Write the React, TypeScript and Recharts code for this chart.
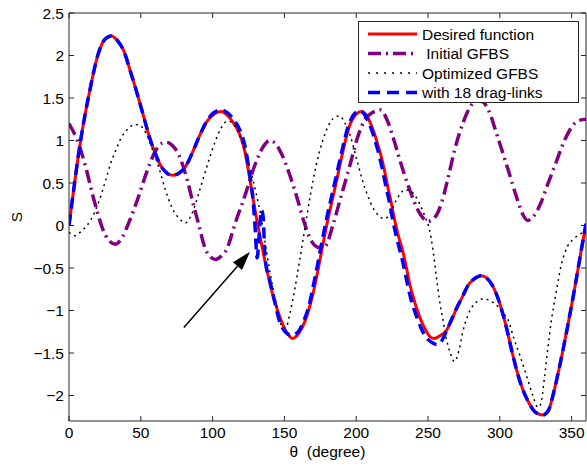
import { LineChart, Line, XAxis, YAxis, ReferenceLine } from 'recharts'

const thetaTicks = [0, 50, 100, 150, 200, 250, 300, 350]
const sTicks = [-2, -1.5, -1, -0.5, 0, 0.5, 1, 1.5, 2, 2.5]

// Desired function (red)
const desiredTheta = [
  0, 3.5, 7, 10.5, 15, 20, 25, 29.5, 34, 38, 43, 47.5, 52, 56, 60, 64, 68, 72, 76, 81, 86, 90.5, 96.7,
  101, 106, 110, 114, 117.6, 120, 122.3, 125.7, 128, 130.4, 133, 136, 140, 143, 146.5, 150, 153, 155.5,
  160, 164, 168, 171, 174, 176.8, 180, 186, 190.7, 195.3, 200, 203.5, 207, 210, 212.7, 215, 217.4,
  220, 222, 224, 226.6, 229, 232.4, 235, 237, 240, 243, 246, 249, 251.5, 254.5, 258, 262.6, 266, 270,
  274.2, 278, 282, 287, 291, 295, 300, 304, 308, 312, 316, 320, 325, 330, 334, 338, 342.7, 347.3, 352,
  356.6, 360,
]
const desiredS = [
  0, 0.45, 0.88, 1.24, 1.63, 2.0, 2.19, 2.23, 2.17, 2.06, 1.8, 1.55, 1.28, 1.04, 0.85, 0.7, 0.62, 0.59,
  0.61, 0.69, 0.86, 1.04, 1.24, 1.31, 1.34, 1.3, 1.22, 1.12, 1.02, 0.88, 0.57, 0.33, 0.1, -0.13, -0.38,
  -0.69, -0.88, -1.06, -1.21, -1.29, -1.33, -1.27, -1.14, -0.93, -0.72, -0.47, -0.22, 0.05, 0.5,
  0.87, 1.17, 1.31, 1.34, 1.3, 1.2, 1.08, 0.95, 0.81, 0.62, 0.45, 0.3, 0.08, -0.1, -0.3, -0.5, -0.67,
  -0.86, -1.02, -1.15, -1.25, -1.31, -1.33, -1.3, -1.24, -1.13, -0.97, -0.83, -0.7, -0.63, -0.59, -0.62,
  -0.71, -0.92, -1.16, -1.45, -1.72, -1.93, -2.08, -2.2, -2.23, -2.17, -1.93, -1.57, -1.18, -0.75, -0.3,
  0.02,
]

// Initial GFBS (purple)
const initialTheta = [
  0, 5.8, 11.6, 16.3, 19.7, 23, 27.5, 32.5, 37, 41.8, 47.6, 54.6, 60.3, 65, 68, 72, 76.5, 82.4, 87, 90.5,
  94.4, 98.5, 102, 106, 110.6, 114, 117.6, 120.5, 124.6, 129.2, 135, 139.7, 143.5, 147.8, 153.6, 159.4,
  163.5, 168.7, 174.5, 178.5, 183.7, 188.4, 195.3, 201, 205.8, 211.5, 217, 222, 226, 230, 237, 244, 250,
  255, 260, 264.5, 268.4, 274.2, 278.8, 284, 288.5, 292, 298.5, 305.5, 312.5, 316, 319.5, 323, 328.7, 333,
  338, 345, 352, 356, 360,
]
const initialS = [
  1.2, 1.0, 0.69, 0.37, 0.16, -0.02, -0.17, -0.22, -0.14, 0.04, 0.3, 0.65, 0.88, 0.97, 0.98, 0.94, 0.83,
  0.53, 0.22, 0.0, -0.25, -0.37, -0.4, -0.36, -0.25, -0.07, 0.12, 0.25, 0.46, 0.7, 0.92, 1.0, 0.97, 0.85,
  0.6, 0.29, 0.05, -0.18, -0.26, -0.24, 0.0, 0.28, 0.69, 1.04, 1.24, 1.33, 1.36, 1.22, 1.02, 0.79, 0.43,
  0.15, 0.05, 0.1, 0.3, 0.6, 0.88, 1.2, 1.38, 1.47, 1.45, 1.36, 1.04, 0.67, 0.29, 0.13, 0.06, 0.1, 0.27,
  0.47, 0.69, 1.0, 1.2, 1.24, 1.25,
]

// Optimized GFBS (black dotted)
const optimizedTheta = [
  0, 4, 9, 15, 21, 25.5, 29, 32.5, 36, 40.6, 46, 50, 54, 58, 62.6, 67.3, 72, 77.5, 81, 84.5, 88, 92, 96.7,
  101.4, 106, 110.5, 114, 118, 122, 126, 130, 134, 137.5, 141, 145, 148.5, 151, 154, 157, 160.5, 164, 168,
  172, 176.5, 180, 184, 188.4, 192, 196, 200, 204, 208, 212, 216, 220, 224, 228, 234, 239, 244, 248, 251,
  253.3, 255.7, 258, 260.5, 263, 265.5, 268.4, 271.5, 274.2, 277.7, 281, 285.5, 289, 293.5, 298.5, 302,
  305.5, 310, 314.8, 319.4, 323, 326.5, 328.5, 331, 333.4, 335.7, 339.2, 342.7, 347.3, 352, 356, 360,
]
const optimizedS = [
  -0.08, -0.12, -0.06, 0.06, 0.29, 0.53, 0.73, 0.88, 1.02, 1.13, 1.19, 1.17, 1.07, 0.9, 0.68, 0.41, 0.2,
  0.07, 0.03, 0.1, 0.25, 0.47, 0.73, 0.97, 1.15, 1.23, 1.2, 1.1, 0.9, 0.68, 0.4, 0.08, -0.3, -0.65, -0.97,
  -1.2, -1.2, -1.02, -0.77, -0.42, -0.06, 0.35, 0.7, 0.99, 1.15, 1.26, 1.29, 1.21, 1.05, 0.8, 0.55, 0.35,
  0.2, 0.11, 0.08, 0.16, 0.3, 0.42, 0.39, 0.26, 0.1, -0.05, -0.27, -0.59, -0.88, -1.12, -1.35, -1.5, -1.6,
  -1.47, -1.25, -1.06, -0.95, -0.88, -0.86, -0.89, -0.95, -1.03, -1.1, -1.34, -1.57, -1.81, -2.0, -2.14,
  -2.1, -1.8, -1.45, -1.14, -0.79, -0.47, -0.24, -0.15, -0.1, -0.05,
]

// With 18 drag-links (blue dashed)
const dragTheta = [
  0, 3.5, 7, 10.5, 15, 20, 25, 29.5, 34, 38, 43, 47.5, 52, 56, 60, 64, 68, 72, 76, 81, 86, 90.5, 96.7,
  101, 106, 110, 114, 117.6, 120, 122.3, 125.7, 128, 129.5, 131, 132.5, 134, 135.2, 136.5, 140, 143, 146.5,
  150, 154.5, 159, 163, 167, 170, 173, 175.8, 179, 185, 189.7, 194.3, 199, 202.5, 206, 209, 211.7, 214,
  216.2, 218.8, 220.8, 222.8, 225.3, 227.8, 231, 234, 236, 239, 242, 245, 248, 252, 256.5, 259, 262.6,
  266, 270, 274.2, 278, 282, 287, 291, 295, 300, 304, 308, 312, 316, 320, 325, 330, 334, 338, 342.7, 347.3,
  352, 356.6, 360,
]
const dragS = [
  0, 0.45, 0.88, 1.24, 1.63, 2.0, 2.19, 2.23, 2.17, 2.06, 1.8, 1.55, 1.28, 1.04, 0.85, 0.7, 0.62, 0.59,
  0.61, 0.69, 0.86, 1.04, 1.25, 1.33, 1.36, 1.33, 1.26, 1.17, 1.08, 0.95, 0.62, 0.33, 0.0, -0.38, -0.1,
  0.18, 0.1, -0.38, -0.66, -0.88, -1.12, -1.24, -1.29, -1.26, -1.14, -0.95, -0.72, -0.47, -0.22, 0.05, 0.5,
  0.85, 1.16, 1.32, 1.35, 1.3, 1.2, 1.08, 0.95, 0.81, 0.62, 0.45, 0.3, 0.08, -0.12, -0.33, -0.55, -0.72,
  -0.92, -1.07, -1.2, -1.3, -1.37, -1.4, -1.37, -1.25, -1.12, -0.97, -0.83, -0.7, -0.63, -0.59, -0.62,
  -0.71, -0.92, -1.16, -1.45, -1.72, -1.93, -2.08, -2.2, -2.23, -2.17, -1.93, -1.57, -1.18, -0.75, -0.3,
  0.02,
]

const arrowTail = { x: 80, y: -1.2 }
const arrowTip = { x: 126, y: -0.31 }

const toPoints = (t: number[], s: number[]) => t.map((theta, i) => ({ theta, s: s[i] }))

const desired = toPoints(desiredTheta, desiredS)
const initial = toPoints(initialTheta, initialS)
const optimized = toPoints(optimizedTheta, optimizedS)
const dragLinks = toPoints(dragTheta, dragS)

const FONT = '"Liberation Sans", Arial, sans-serif'
const AXIS = '#262626'

const fmt = (v: number) => (v < 0 ? `\u2212${-v}` : `${v}`)
const blank = () => ''

const legendItems = [
  { label: 'Desired function', color: '#ff0000', width: 3, dash: undefined as string | undefined },
  { label: '\u00a0Initial GFBS', color: '#800080', width: 3.5, dash: '13 5 2 5' },
  { label: 'Optimized GFBS', color: '#000000', width: 1.5, dash: '2 6' },
  { label: 'with 18 drag-links', color: '#0000ff', width: 3.5, dash: '12 7' },
]

function Arrow(props: any) {
  const { x1, y1, x2, y2 } = props
  if (x1 == null) return null
  const ang = Math.atan2(y2 - y1, x2 - x1)
  const len = 19
  const half = 6
  const bx = x2 - len * Math.cos(ang)
  const by = y2 - len * Math.sin(ang)
  const px = -Math.sin(ang) * half
  const py = Math.cos(ang) * half
  return (
    <g>
      <line x1={x1} y1={y1} x2={bx} y2={by} stroke="#000" strokeWidth={1.5} />
      <polygon points={`${x2},${y2} ${bx + px},${by + py} ${bx - px},${by - py}`} fill="#000" />
    </g>
  )
}

export default function App() {
  return (
    <div style={{ position: 'absolute', left: 0, top: 0, width: 587, height: 467, background: '#fff', fontFamily: FONT }}>
      <LineChart width={587} height={467} margin={{ top: 12, right: 0, bottom: 0, left: 0 }}>
        <XAxis
          dataKey="theta"
          type="number"
          domain={[0, 360]}
          ticks={thetaTicks}
          allowDataOverflow
          height={46}
          tickSize={-5}
          tickMargin={11}
          stroke={AXIS}
          tick={{ fill: '#000', fontSize: 15.5, fontFamily: FONT }}
          label={{
            content: () => (
              <text x={327.5} y={457} textAnchor="middle" fill="#000" fontSize={15.5} fontFamily={FONT}>
                {'\u03b8\u00a0\u00a0(degree)'}
              </text>
            ),
          }}
        />
        <XAxis
          xAxisId="top"
          orientation="top"
          dataKey="theta"
          type="number"
          domain={[0, 360]}
          ticks={thetaTicks}
          allowDataOverflow
          height={1}
          tickSize={-5}
          tickFormatter={blank}
          stroke={AXIS}
        />
        <YAxis
          type="number"
          domain={[-2.3, 2.5]}
          ticks={sTicks}
          allowDataOverflow
          width={69}
          tickSize={-5}
          tickMargin={10}
          stroke={AXIS}
          tickFormatter={fmt}
          tick={{ fill: '#000', fontSize: 15.5, fontFamily: FONT }}
          label={{
            content: () => (
              <text
                x={22}
                y={217}
                transform="rotate(-90 22 217)"
                textAnchor="middle"
                fill="#000"
                fontSize={15.5}
                fontFamily={FONT}
              >
                S
              </text>
            ),
          }}
        />
        <YAxis
          yAxisId="right"
          orientation="right"
          type="number"
          domain={[-2.3, 2.5]}
          ticks={sTicks}
          allowDataOverflow
          width={1}
          tickSize={-5}
          tickFormatter={blank}
          stroke={AXIS}
        />
        <Line
          data={desired}
          dataKey="s"
          type="monotone"
          stroke="#ff0000"
          strokeWidth={3}
          dot={false}
          isAnimationActive={false}
        />
        <Line
          data={initial}
          dataKey="s"
          type="monotone"
          stroke="#800080"
          strokeWidth={3.5}
          strokeDasharray="13 5 2 5"
          dot={false}
          isAnimationActive={false}
        />
        <Line
          data={optimized}
          xAxisId="top"
          yAxisId="right"
          dataKey="s"
          type="monotone"
          stroke="#000000"
          strokeWidth={1.5}
          strokeDasharray="2 4"
          dot={false}
          isAnimationActive={false}
        />
        <Line
          data={dragLinks}
          dataKey="s"
          type="monotone"
          stroke="#0000ff"
          strokeWidth={3.5}
          strokeDasharray="11 6"
          dot={false}
          isAnimationActive={false}
        />
        <ReferenceLine segment={[arrowTail, arrowTip]} shape={Arrow} ifOverflow="visible" />
      </LineChart>
      <div
        style={{
          position: 'absolute',
          left: 358,
          top: 21,
          width: 221,
          height: 82,
          boxSizing: 'border-box',
          border: `1px solid ${AXIS}`,
          background: '#fff',
        }}
      >
        <svg width={219} height={80} style={{ display: 'block' }}>
          {legendItems.map((item, i) => {
            const y = 12 + i * 19.5
            return (
              <g key={item.label}>
                <line
                  x1={9}
                  x2={58}
                  y1={y}
                  y2={y}
                  stroke={item.color}
                  strokeWidth={item.width}
                  strokeDasharray={item.dash}
                />
                <text x={63} y={y + 5.5} fill="#000" fontSize={15.5} fontFamily={FONT}>
                  {item.label}
                </text>
              </g>
            )
          })}
        </svg>
      </div>
    </div>
  )
}
